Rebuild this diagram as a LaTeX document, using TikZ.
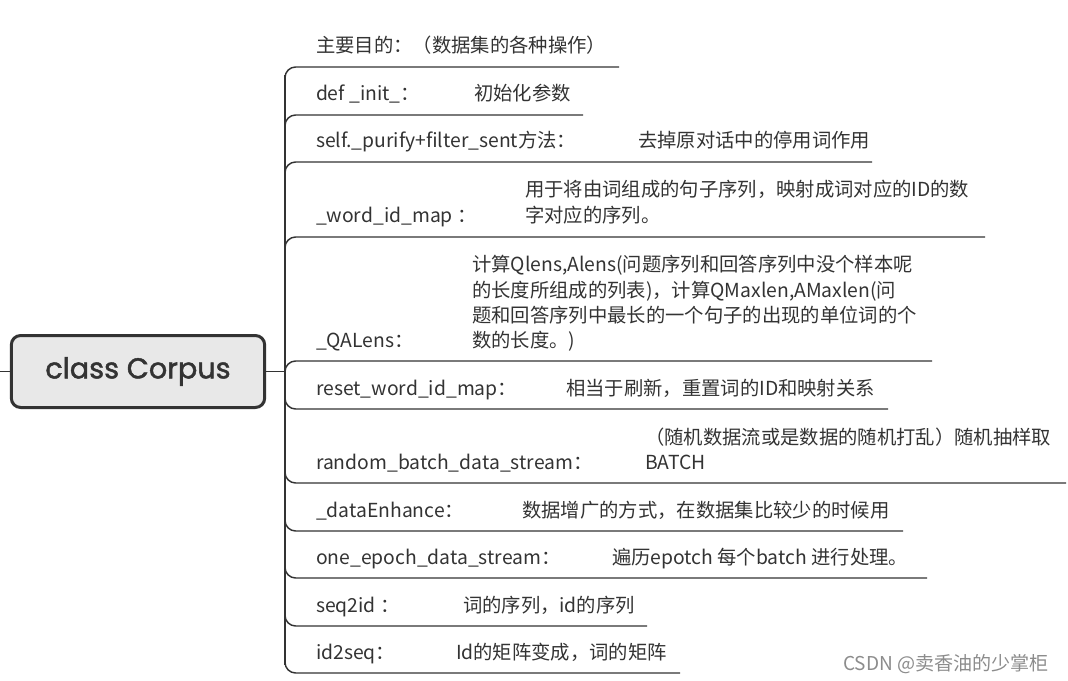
\documentclass[tikz,border=0pt]{standalone}
\usepackage{fontspec}
\setmainfont{Noto Sans CJK SC}
\newfontfamily\rootfont{Poppins}[FakeBold=1.6]
\usepackage{xcolor}
\usetikzlibrary{positioning}
\definecolor{ink}{HTML}{333333}
\definecolor{rootfill}{HTML}{E8E8E8}

\begin{document}
\begin{tikzpicture}[x=0.75pt, y=-0.75pt,
  every node/.style={inner sep=0pt, outer sep=0pt, text=ink},
  branch/.style={draw=ink, line width=1.1pt, rounded corners=8},
  key/.style={anchor=base west, font=\fontsize{14.5pt}{18pt}\selectfont},
  desc/.style={anchor=base west, font=\fontsize{14.5pt}{18pt}\selectfont}]

\useasboundingbox (0,0) rectangle (1068,681);

\node (root) [draw=ink, line width=2.25pt, fill=rootfill, rounded corners=7, minimum width=190pt, minimum height=54pt, font=\rootfont\fontsize{21.5pt}{24pt}\selectfont] at (138,371.5) {class Corpus};

\coordinate (stub) at (0,371.5);
\coordinate (trunk) at (285,371.5);
\coordinate (trunk-top) at (285,75);
\coordinate (trunk-bot) at (285,665);

\draw [branch] (stub) -- (root.west);
\draw [branch] (root.east) -- (trunk);
\draw [branch] (trunk-top) -- (trunk-bot);

% branches above the root
\foreach \y/\e/\k [count=\i] in {67/619/主要目的：（数据集的各种操作）,
    115/583/def \_init\_：,
    162/872/self.\_purify+filter\_sent方法：,
    237/985/\_word\_id\_map ：,
    361/932/\_QALens：}
{
  \coordinate (b\i-s) at (285,\y);
  \coordinate (b\i-e) at (\e,\y);
  \draw [branch] (285,\y+12) -- (b\i-s) -- (b\i-e);
  \node [key] (k\i) at (316,\y-14) {\k};
}

% branches below the root
\foreach \y/\e/\k [count=\i from 6] in {409/888/reset\_word\_id\_map：,
    483/1066/random\_batch\_data\_stream：,
    531/903/\_dataEnhance：,
    578/927/one\_epoch\_data\_stream：,
    626/647/seq2id ：,
    673/680/id2seq：}
{
  \coordinate (b\i-s) at (285,\y);
  \coordinate (b\i-e) at (\e,\y);
  \draw [branch] (285,\y-12) -- (b\i-s) -- (b\i-e);
  \node [key] (k\i) at (316,\y-14) {\k};
}

\node [desc] (d2) at (474,101) {初始化参数};
\node [desc] (d3) at (638,148) {去掉原对话中的停用词作用};

\node [desc] (d4-1) at (525,197) {用于将由词组成的句子序列，映射成词对应的ID的数};
\node [desc] (d4-2) at (525,223) {字对应的序列。};

\node [desc] (d5-1) at (472,272) {计算Qlens,Alens(问题序列和回答序列中没个样本呢};
\node [desc] (d5-2) at (472,297) {的长度所组成的列表)，计算QMaxlen,AMaxlen(问};
\node [desc] (d5-3) at (472,322) {题和回答序列中最长的一个句子的出现的单位词的个};
\node [desc] (d5-4) at (472,347) {数的长度。)};

\node [desc] (d6) at (566,395) {相当于刷新，重置词的ID和映射关系};

\node [desc] (d7-1) at (645,444) {（随机数据流或是数据的随机打乱）随机抽样取};
\node [desc] (d7-2) at (645,469) {BATCH};

\node [desc] (d8) at (522,517) {数据增广的方式，在数据集比较少的时候用};
\node [desc] (d9) at (612,564) {遍历epotch 每个batch 进行处理。};
\node [desc] (d10) at (463,612) {词的序列，id的序列};
\node [desc] (d11) at (456,659) {Id的矩阵变成，词的矩阵};

\node (mark) [anchor=base west, text=black!45, font=\fontsize{14.3pt}{17pt}\selectfont] at (843,670) {CSDN @卖香油的少掌柜};

\end{tikzpicture}
\end{document}
